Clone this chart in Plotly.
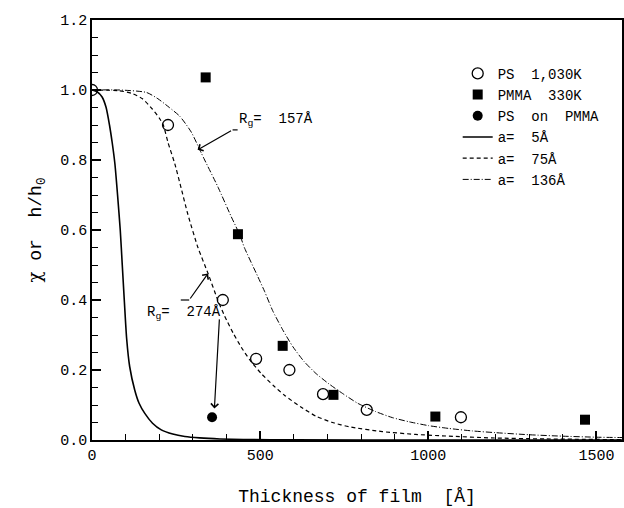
import plotly.graph_objects as go

# --- data ---
ps_x = [0, 226, 389, 488, 587, 687, 817, 1097]
ps_y = [1.0, 0.90, 0.40, 0.232, 0.20, 0.131, 0.086, 0.065]

pmma_x = [338, 434, 567, 718, 1021, 1466]
pmma_y = [1.036, 0.588, 0.269, 0.129, 0.067, 0.058]

pson_x = [357]
pson_y = [0.065]

a5_x = [0, 15, 30, 42, 52, 60, 68, 76, 84, 90, 96, 103, 112, 127, 140, 157, 180, 206, 240, 276, 320, 380, 450, 600, 1000, 1576]
a5_y = [1.0, 0.995, 0.98, 0.95, 0.90, 0.85, 0.79, 0.70, 0.60, 0.50, 0.40, 0.29, 0.21, 0.143, 0.105, 0.076, 0.048, 0.029, 0.017, 0.010, 0.006, 0.003, 0.0015, 0.0005, 0.0, 0.0]

a75_x = [0, 80, 120, 150, 180, 200, 212, 226, 246, 265, 285, 315, 345, 374, 394, 420, 444, 470, 503, 540, 572, 620, 666, 715, 764, 863, 962, 1061, 1188, 1350, 1576]
a75_y = [1.0, 0.998, 0.99, 0.975, 0.945, 0.92, 0.90, 0.85, 0.79, 0.72, 0.645, 0.55, 0.476, 0.40, 0.355, 0.305, 0.265, 0.228, 0.19, 0.155, 0.128, 0.095, 0.068, 0.05, 0.038, 0.024, 0.016, 0.011, 0.006, 0.003, 0.001]

a136_x = [0, 83, 162, 196, 230, 261, 295, 325, 335, 374, 414, 440, 453, 493, 513, 537, 567, 597, 630, 666, 705, 745, 790, 844, 893, 943, 1001, 1061, 1130, 1199, 1300, 1397, 1500, 1576]
a136_y = [1.0, 1.0, 0.993, 0.975, 0.95, 0.925, 0.88, 0.82, 0.80, 0.724, 0.638, 0.585, 0.55, 0.467, 0.425, 0.37, 0.315, 0.267, 0.225, 0.19, 0.16, 0.133, 0.105, 0.081, 0.064, 0.052, 0.041, 0.033, 0.026, 0.021, 0.015, 0.011, 0.008, 0.007]

FONT = "Liberation Mono"

fig = go.Figure()
fig.add_trace(go.Scatter(x=ps_x, y=ps_y, mode="markers", name="PS  1,030K",
                         marker=dict(symbol="circle-open", size=11, color="black", line=dict(width=1.3))))
fig.add_trace(go.Scatter(x=pmma_x, y=pmma_y, mode="markers", name="PMMA  330K",
                         marker=dict(symbol="square", size=10, color="black")))
fig.add_trace(go.Scatter(x=pson_x, y=pson_y, mode="markers", name="PS  on  PMMA",
                         marker=dict(symbol="circle", size=10, color="black")))
fig.add_trace(go.Scatter(x=a5_x, y=a5_y, mode="lines", name="a=  5Å",
                         line=dict(color="black", width=1.6, shape="spline", smoothing=0.6)))
fig.add_trace(go.Scatter(x=a75_x, y=a75_y, mode="lines", name="a=  75Å",
                         line=dict(color="black", width=1.2, dash="4px,3px", shape="spline", smoothing=0.6)))
fig.add_trace(go.Scatter(x=a136_x, y=a136_y, mode="lines", name="a=  136Å",
                         line=dict(color="black", width=1.0, dash="6px,2px,1px,2px", shape="spline", smoothing=0.6)))

arrow = dict(showarrow=True, arrowhead=4, arrowsize=1.2, arrowwidth=1.2, arrowcolor="black",
             axref="x", ayref="y", text="", standoff=0, startstandoff=0)
annotations = [
    dict(x=430, y=0.914, xref="x", yref="y", text="R<sub>g</sub>=  157Å", showarrow=False,
         xanchor="left", yanchor="middle", font=dict(family=FONT, size=14, color="black")),
    dict(x=157, y=0.363, xref="x", yref="y", text="R<sub>g</sub>=  274Å", showarrow=False,
         xanchor="left", yanchor="middle", font=dict(family=FONT, size=14, color="black")),
    dict(arrow, x=314, y=0.829, ax=418, ay=0.886),
    dict(arrow, x=345, y=0.476, ax=289, ay=0.40),
    dict(arrow, x=364, y=0.09, ax=379, ay=0.349),
]
shapes = [
    dict(type="line", xref="x", yref="y", x0=418, y0=0.886, x1=433, y1=0.886, line=dict(color="black", width=1.2)),
    dict(type="line", xref="x", yref="y", x0=264, y0=0.40, x1=289, y1=0.40, line=dict(color="black", width=1.2)),
]

fig.update_layout(
    width=624, height=508,
    margin=dict(l=92, r=0, t=20, b=68),
    paper_bgcolor="white", plot_bgcolor="white",
    font=dict(family=FONT, size=15, color="black"),
    showlegend=True,
    legend=dict(x=0.69, y=0.91, xanchor="left", yanchor="top", bgcolor="rgba(0,0,0,0)",
                font=dict(family=FONT, size=14, color="black"), itemwidth=30, tracegroupgap=0),
    annotations=annotations,
    shapes=shapes,
)
fig.update_xaxes(range=[0, 1576], tick0=0, dtick=500, ticks="inside", ticklen=9, tickwidth=1.6,
                 showline=True, linecolor="black", linewidth=1.6, mirror=True, showgrid=False, zeroline=False,
                 minor=dict(tick0=0, dtick=100, ticks="inside", ticklen=6, tickwidth=1.3, tickcolor="black", showgrid=False),
                 tickcolor="black", tickfont=dict(family=FONT, size=15, color="black"),
                 title=dict(text="Thickness of film  [Å]", font=dict(family=FONT, size=18, color="black"), standoff=26))
fig.update_yaxes(range=[0, 1.2], tick0=0, dtick=0.2, tickformat=".1f", ticks="inside", ticklen=9, tickwidth=1.6,
                 showline=True, linecolor="black", linewidth=1.6, mirror=True, showgrid=False, zeroline=False,
                 minor=dict(tick0=0, dtick=0.05, ticks="inside", ticklen=6, tickwidth=1.3, tickcolor="black", showgrid=False),
                 tickcolor="black", tickfont=dict(family=FONT, size=15, color="black"),
                 title=dict(text="<span style='font-family:DejaVu Serif'>χ</span> or  h/h<sub>0</sub>",
                            font=dict(family=FONT, size=18, color="black"), standoff=14))

fig.write_html("out.html")
